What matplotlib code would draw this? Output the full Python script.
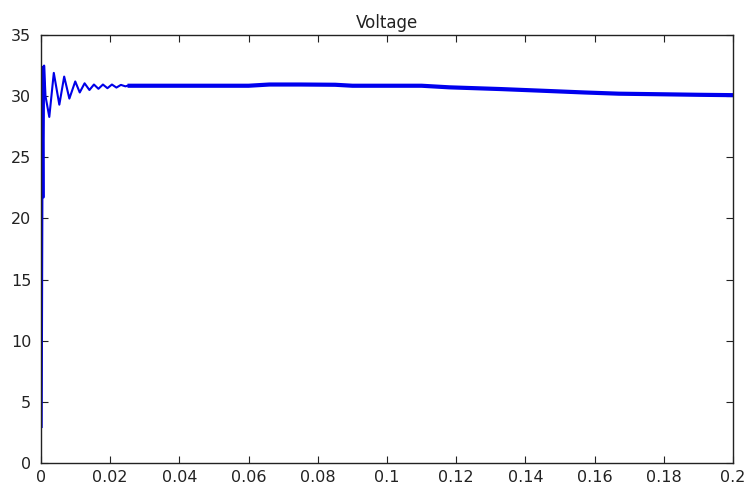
import numpy as np
import matplotlib.pyplot as plt

plt.rcParams['font.family'] = ['DejaVu Sans']

# voltage trace (time in s, volts)
t = [0.0, 0.0002, 0.0004, 0.0007, 0.0009, 0.0013, 0.0024, 0.0037,
     0.0053, 0.0067, 0.0082, 0.0099, 0.0112, 0.0126, 0.0140, 0.0153, 0.0166,
     0.0179, 0.0192, 0.0205, 0.0218, 0.0231, 0.0244, 0.025, 0.040, 0.060,
     0.066, 0.075, 0.085, 0.090, 0.100, 0.110, 0.118, 0.1327, 0.145, 0.157,
     0.167, 0.180, 0.190, 0.200]
v = [3.0, 21.6, 32.4, 21.7, 32.5, 30.0, 28.3, 31.9,
     29.3, 31.6, 29.8, 31.2, 30.3, 31.05, 30.5, 30.95, 30.6,
     30.95, 30.65, 30.95, 30.7, 30.92, 30.8, 30.85, 30.85, 30.85,
     30.95, 30.95, 30.93, 30.85, 30.85, 30.85, 30.72, 30.58, 30.44, 30.3,
     30.2, 30.15, 30.11, 30.08]

xticks = [0, 0.02, 0.04, 0.06, 0.08, 0.1, 0.12, 0.14, 0.16, 0.18, 0.2]
xlabels = ['0', '0.02', '0.04', '0.06', '0.08', '0.1', '0.12', '0.14', '0.16', '0.18', '0.2']
yticks = [0, 5, 10, 15, 20, 25, 30, 35]

fig = plt.figure(figsize=(7.48, 4.84), dpi=100)
ax = fig.add_axes([0.0548, 0.0434, 0.9252, 0.8843])

# thin early part, thicker settled part
n = 24
ax.plot(t[:n], v[:n], color='#0000e8', lw=1.5)
ax.plot(t[n - 1:], v[n - 1:], color='#0000ee', lw=3.0, solid_capstyle='butt')
ax.plot(t[:2], v[:2], color='#0000e8', lw=2.5)

ax.set_xlim(0, 0.2)
ax.set_ylim(0, 35)
ax.set_xticks(xticks)
ax.set_xticklabels(xlabels)
ax.set_yticks(yticks)
ax.tick_params(direction='in', length=5, width=0.8, top=True, right=True,
               labelsize=11.5, colors='#222222')
ax.tick_params(axis='x', pad=5)
ax.tick_params(axis='y', pad=7)
for s in ax.spines.values():
    s.set_linewidth(1.0)
    s.set_color('#222222')
ax.set_title('Voltage', fontsize=12, pad=5, color='#222222')

fig.savefig('out.png', dpi=100)
